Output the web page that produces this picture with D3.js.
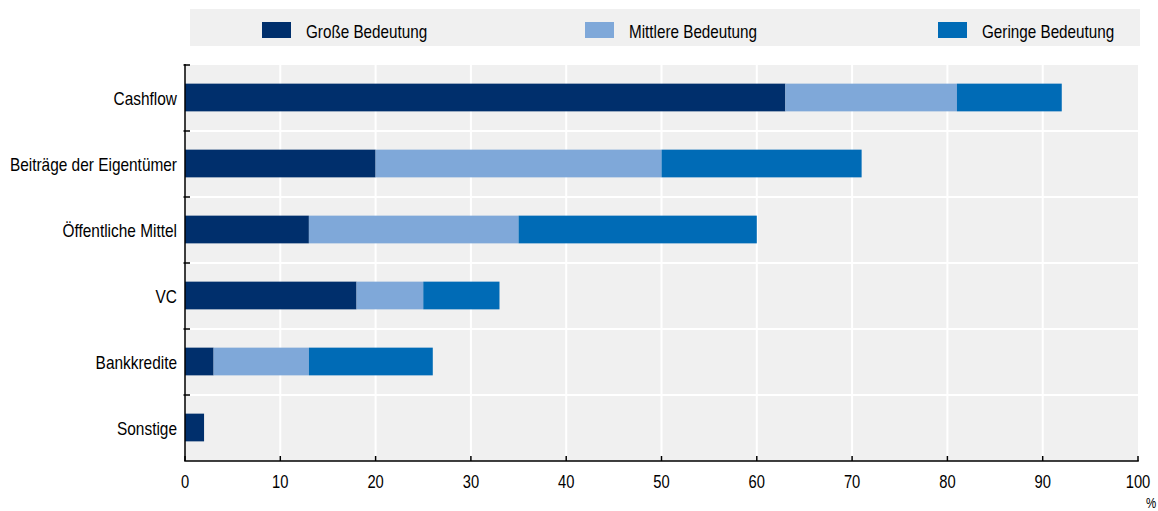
<!DOCTYPE html>
<html><head><meta charset="utf-8">
<script src="https://cdn.jsdelivr.net/npm/d3@7"></script>
<style>
body{margin:0;background:#fff;}
text{font-family:"Liberation Sans",Arial,sans-serif;fill:#000;}
</style></head>
<body><svg id="c" width="1158" height="511"></svg>
<script>
const categories = ["Cashflow","Beiträge der Eigentümer","Öffentliche Mittel","VC","Bankkredite","Sonstige"];
const seriesNames = ["Große Bedeutung","Mittlere Bedeutung","Geringe Bedeutung"];
const grosse   = [63,20,13,18,3,2];
const mittlere = [18,30,22,7,10,0];
const geringe  = [11,21,25,8,13,0];
const xTicks = [0,10,20,30,40,50,60,70,80,90,100];
const colors = ["#002F6C","#7FA8D9","#006BB6"];

const NARROW = 0.82; // emulate Arial Narrow
const svg = d3.select("#c");
const m = {l:185, r:1138, t:65, b:461};
const x = d3.scaleLinear().domain([0,100]).range([m.l,m.r]);
const y = d3.scaleBand().domain(categories).range([m.t,m.b]).paddingInner(0).paddingOuter(0);

function ntext(sel, tx, ty){
  return sel.attr("transform",(d,i)=>`translate(${tx(d,i)},${ty(d,i)}) scale(${NARROW},1)`).attr("x",0).attr("y",0);
}

// plot bg
svg.append("rect").attr("x",m.l).attr("y",m.t).attr("width",m.r-m.l).attr("height",m.b-m.t).attr("fill","#F0F0F0");
// vertical grid
svg.selectAll(".vg").data(xTicks.slice(1,-1)).join("line")
  .attr("x1",d=>x(d)).attr("x2",d=>x(d)).attr("y1",m.t).attr("y2",m.b)
  .attr("stroke","#fff").attr("stroke-width",2);
// horizontal grid between bands
svg.selectAll(".hg").data(categories.slice(1)).join("line")
  .attr("x1",m.l).attr("x2",m.r).attr("y1",d=>y(d)).attr("y2",d=>y(d))
  .attr("stroke","#fff").attr("stroke-width",2);

// stacked data
const table = categories.map((c,i)=>({cat:c, "Große Bedeutung":grosse[i], "Mittlere Bedeutung":mittlere[i], "Geringe Bedeutung":geringe[i]}));
const stack = d3.stack().keys(seriesNames)(table);
const barH = y.bandwidth()*0.42;
svg.selectAll(".s").data(stack).join("g").attr("fill",(d,i)=>colors[i])
  .selectAll("rect").data(d=>d.filter(p=>p[1]-p[0]>0)).join("rect")
  .attr("x",d=>x(d[0])).attr("width",d=>x(d[1])-x(d[0]))
  .attr("y",d=>y(d.data.cat)+y.bandwidth()/2-barH/2-0.5).attr("height",barH);

// y axis
svg.append("line").attr("x1",m.l).attr("x2",m.l).attr("y1",m.t-1).attr("y2",m.b).attr("stroke","#000").attr("stroke-width",1.5);
const yTickPos = categories.map(c=>y(c));
svg.selectAll(".yt").data(yTickPos).join("line")
  .attr("x1",m.l-1.5).attr("x2",m.l+5).attr("y1",d=>d).attr("y2",d=>d).attr("stroke","#000").attr("stroke-width",1.5);
ntext(svg.selectAll(".yl").data(categories).join("text"), d=>m.l-8, d=>y(d)+y.bandwidth()/2+6.5)
  .attr("text-anchor","end").attr("font-size",18.8).text(d=>d);

// x axis
svg.append("line").attr("x1",m.l-0.75).attr("x2",m.r+0.75).attr("y1",m.b).attr("y2",m.b).attr("stroke","#000").attr("stroke-width",1.5);
svg.selectAll(".xt").data(xTicks).join("line")
  .attr("x1",d=>x(d)).attr("x2",d=>x(d)).attr("y1",m.b-5).attr("y2",m.b).attr("stroke","#000").attr("stroke-width",1.5);
ntext(svg.selectAll(".xl").data(xTicks).join("text"), d=>x(d), d=>m.b+27)
  .attr("text-anchor","middle").attr("font-size",18).text(d=>d);
ntext(svg.append("text").datum("%"), d=>1146, d=>508).attr("font-size",14).text("%");

// legend
svg.append("rect").attr("x",190).attr("y",9).attr("width",950).attr("height",37).attr("fill","#F0F0F0");
const legX = [262,585,938];
const lg = svg.selectAll(".lg").data(seriesNames).join("g").attr("transform",(d,i)=>`translate(${legX[i]},0)`);
lg.append("rect").attr("x",0).attr("y",22).attr("width",29).attr("height",16).attr("fill",(d,i)=>colors[i]);
ntext(lg.append("text"), d=>44, d=>37.5).attr("font-size",18.6).text(d=>d);
</script></body></html>
